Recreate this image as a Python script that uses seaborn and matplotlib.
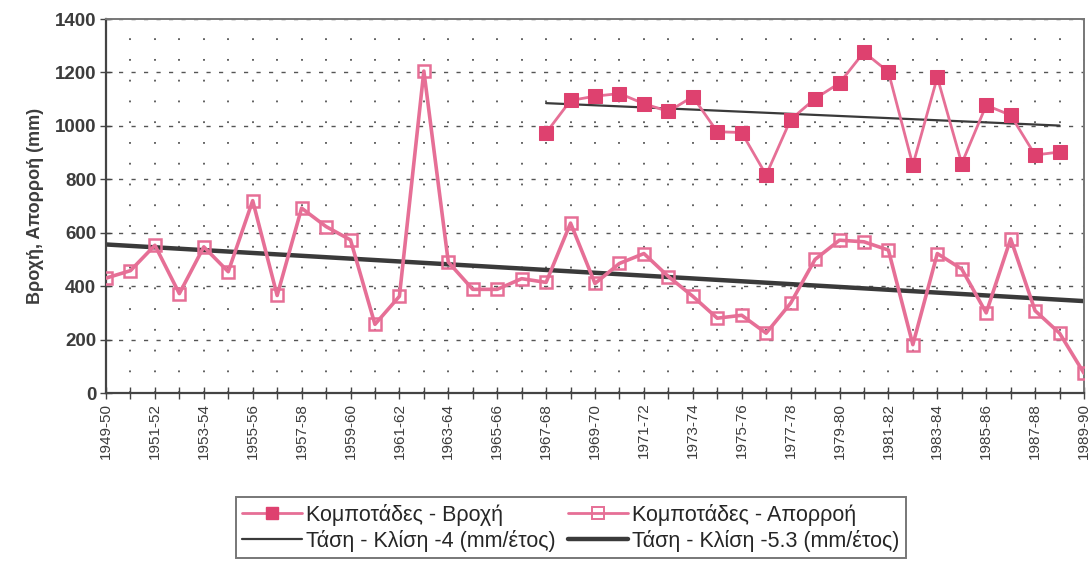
import numpy as np
import pandas as pd
import matplotlib
matplotlib.use("Agg")
import matplotlib.pyplot as plt
from matplotlib.lines import Line2D
import seaborn as sns

# Hydrological years
years = [f"{y}-{str(y + 1)[-2:]}" for y in range(1949, 1990)]

# Runoff (mm), 1949-50 .. 1989-90
runoff = [430, 458, 553, 372, 547, 454, 720, 365, 692, 623, 573, 257, 362, 1205,
          490, 388, 388, 428, 414, 636, 410, 485, 522, 436, 362, 280, 291, 224,
          336, 500, 572, 566, 535, 181, 522, 464, 300, 577, 308, 224, 74]

# Rainfall (mm), 1967-68 .. 1988-89
rain_years = years[18:40]
rain = [974, 1095, 1111, 1121, 1083, 1054, 1109, 978, 975, 816, 1023, 1102,
        1160, 1276, 1202, 853, 1182, 859, 1077, 1040, 891, 902]

# Linear trends: value at first year and slope (mm/year)
rain_trend_start, rain_trend_slope = 1085, -4.0
runoff_trend_start, runoff_trend_slope = 556, -5.3

labels = ["Κομποτάδες - Βροχή", "Κομποτάδες - Απορροή",
          "Τάση - Κλίση -4 (mm/έτος)", "Τάση - Κλίση -5.3 (mm/έτος)"]
y_label = "Βροχή, Απορροή (mm)"

sns.set_theme(style="white")
plt.rcParams["font.family"] = ["Liberation Sans", "DejaVu Sans"]

pos = {y: i for i, y in enumerate(years)}
df_runoff = pd.DataFrame({"x": [pos[y] for y in years], "v": runoff})
df_rain = pd.DataFrame({"x": [pos[y] for y in rain_years], "v": rain})

rx = np.array([pos[rain_years[0]], pos[rain_years[-1]]])
df_rain_tr = pd.DataFrame({"x": rx, "v": rain_trend_start + rain_trend_slope * (rx - rx[0])})
ox = np.array([0, len(years) - 1])
df_run_tr = pd.DataFrame({"x": ox, "v": runoff_trend_start + runoff_trend_slope * (ox - ox[0])})

fig = plt.figure(figsize=(10.91, 5.61), dpi=100)
ax = fig.add_axes([106 / 1091, 1 - 393 / 561, (1084 - 106) / 1091, (393 - 19) / 561])

pink_line = "#E66F96"
pink_mark = "#DE416F"
grid_col = "#555555"

# Grid: dashed horizontal lines, sparse dotted vertical lines
for yv in range(200, 1401, 200):
    ax.axhline(yv, color=grid_col, lw=1.0, ls=(0, (3, 6)), zorder=0)
for xv in range(1, len(years)):
    ax.axvline(xv, color=grid_col, lw=1.3, ls=(0, (1, 10.5)), zorder=0)

sns.lineplot(data=df_run_tr, x="x", y="v", ax=ax, color="#3a3a3a", lw=3.2, zorder=2)
sns.lineplot(data=df_rain_tr, x="x", y="v", ax=ax, color="#3a3a3a", lw=1.6, zorder=2)
sns.lineplot(data=df_runoff, x="x", y="v", ax=ax, color=pink_line, lw=2.6,
             marker="s", markersize=9, markerfacecolor="none",
             markeredgecolor=pink_line, markeredgewidth=1.8, zorder=3)
sns.lineplot(data=df_rain, x="x", y="v", ax=ax, color=pink_line, lw=2.0,
             marker="s", markersize=9.5, markerfacecolor=pink_mark,
             markeredgecolor=pink_mark, zorder=4)

ax.set_xlim(0, len(years) - 1)
ax.set_ylim(0, 1400)
ax.set_yticks(range(0, 1401, 200))
ax.set_yticklabels([str(v) for v in range(0, 1401, 200)],
                   fontsize=13.5, fontweight="bold", color="#3c3c3c")
ax.set_xticks(range(len(years)))
ax.set_xticklabels([y if i % 2 == 0 else "" for i, y in enumerate(years)],
                   rotation=90, fontsize=11, color="#3c3c3c")
ax.tick_params(axis="both", direction="inout", length=8, width=1.0,
               color="#444444", bottom=True, left=True, pad=3)
ax.set_xlabel("")
ax.set_ylabel(y_label, fontsize=13, fontweight="bold", color="#3c3c3c", labelpad=8)

for side in ["left", "bottom"]:
    ax.spines[side].set_color("#444444")
    ax.spines[side].set_linewidth(1.6)
for side in ["top", "right"]:
    ax.spines[side].set_color("#777777")
    ax.spines[side].set_linewidth(1.4)

handles = [
    Line2D([], [], color=pink_line, lw=2.0, marker="s", markersize=9,
           markerfacecolor=pink_mark, markeredgecolor=pink_mark),
    Line2D([], [], color=pink_line, lw=2.0, marker="s", markersize=9,
           markerfacecolor="none", markeredgecolor=pink_line, markeredgewidth=1.4),
    Line2D([], [], color="#3a3a3a", lw=1.6),
    Line2D([], [], color="#3a3a3a", lw=3.2),
]
order = [0, 2, 1, 3]
leg = fig.legend([handles[i] for i in order], [labels[i] for i in order],
                 loc="upper center", bbox_to_anchor=(0.523, 0.114), ncol=2,
                 fontsize=15.5, frameon=True, fancybox=False, edgecolor="#555555",
                 handlelength=2.8, handletextpad=0.15, columnspacing=0.6,
                 labelspacing=0.2, borderpad=0.3, borderaxespad=0)
leg.get_frame().set_linewidth(1.4)

fig.savefig("out.png", dpi=100)
